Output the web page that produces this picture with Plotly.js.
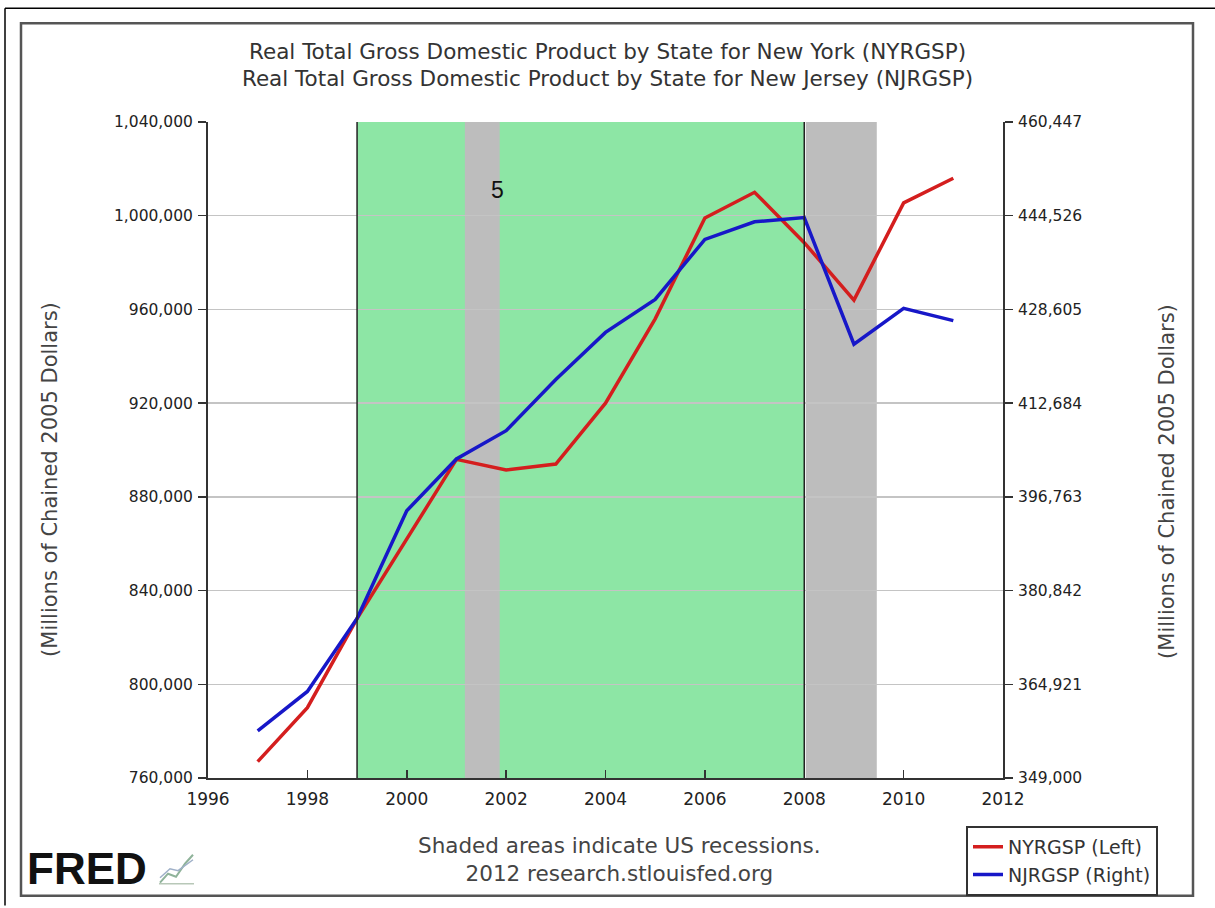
<!DOCTYPE html>
<html>
<head>
<meta charset="utf-8">
<script src="https://cdn.plot.ly/plotly-3.0.1.min.js"></script>
<style>
html,body{margin:0;padding:0;background:#fff;}
#chart{width:1215px;height:908px;}
</style>
</head>
<body>
<div id="chart"></div>
<script>
// ---- data ----
const years = [1997,1998,1999,2000,2001,2002,2003,2004,2005,2006,2007,2008,2009,2010,2011];
const nyValues = [767000,790000,828000,862000,896000,891500,894000,920000,956000,999000,1010000,988500,964000,1005500,1016000];
const njValues = [357000,363700,376100,394400,403200,408000,416700,424700,430300,440500,443500,444200,422700,428800,426700];
const seriesNames = ["NYRGSP (Left)","NJRGSP (Right)"];
const xTicks = [1996,1998,2000,2002,2004,2006,2008,2010,2012];
const leftTicks = [760000,800000,840000,880000,920000,960000,1000000,1040000];
const rightTicks = [349000,364921,380842,396763,412684,428605,444526,460447];
const recessionStart = [2001.17, 2008.03];
const recessionEnd = [2001.87, 2009.46];
const highlightStart = 1999;
const highlightEnd = 2008;
const titleLines = ["Real Total Gross Domestic Product by State for New York (NYRGSP)",
                    "Real Total Gross Domestic Product by State for New Jersey (NJRGSP)"];
const axisTitle = "(Millions of Chained 2005 Dollars)";
const noteLines = ["Shaded areas indicate US recessions.","2012 research.stlouisfed.org"];

// ---- layout helpers (pixel -> paper) ----
const L = 208, R = 1003, T = 122, B = 780;
const px = x => (x - L) / (R - L);
const py = y => (B - y) / (B - T);

const FONT = "DejaVu Sans, Verdana, sans-serif";
const red = "#d41e1e", blue = "#1717c8";

const traces = [
  {x: years, y: nyValues, name: seriesNames[0], type: "scatter", mode: "lines",
   line: {color: red, width: 3.5}, yaxis: "y"},
  {x: years, y: njValues, name: seriesNames[1], type: "scatter", mode: "lines",
   line: {color: blue, width: 3.5}, yaxis: "y2"}
];

const shapes = [];
shapes.push({type:"rect", xref:"x", yref:"paper", x0: highlightStart, x1: highlightEnd, y0:0, y1:1,
  fillcolor:"#8de6a5", line:{width:0}, layer:"below"});
for (let i = 0; i < recessionStart.length; i++) {
  shapes.push({type:"rect", xref:"x", yref:"paper", x0: recessionStart[i], x1: recessionEnd[i], y0:0, y1:1,
    fillcolor:"#bdbdbd", line:{width:0}, layer:"below"});
}
[highlightStart, highlightEnd].forEach(v => shapes.push({type:"line", xref:"x", yref:"paper",
  x0:v, x1:v, y0:0, y1:1, line:{color:"#222", width:1.5}, layer:"above"}));
// outer frame
shapes.push({type:"rect", xref:"paper", yref:"paper", x0:px(21), x1:px(1193), y0:py(898), y1:py(23),
  line:{color:"#555", width:2.5}, fillcolor:"rgba(0,0,0,0)", layer:"below"});
shapes.push({type:"line", xref:"paper", yref:"paper", x0:px(5), x1:px(1215), y0:py(8), y1:py(8),
  line:{color:"#000", width:1.5}});
shapes.push({type:"line", xref:"paper", yref:"paper", x0:px(5), x1:px(5), y0:py(8), y1:py(908),
  line:{color:"#000", width:1.5}});
// FRED icon
shapes.push({type:"path", xref:"paper", yref:"paper",
  path:`M ${px(160)} ${py(885)} L ${px(168)} ${py(876)} L ${px(176)} ${py(879)} L ${px(185)} ${py(866)} L ${px(193)} ${py(857)}`,
  line:{color:"#8fb39a", width:2}});
shapes.push({type:"path", xref:"paper", yref:"paper",
  path:`M ${px(160)} ${py(880)} L ${px(170)} ${py(871)} L ${px(178)} ${py(873)} L ${px(193)} ${py(862)}`,
  line:{color:"#9fb0c8", width:1.5}});
shapes.push({type:"line", xref:"paper", yref:"paper", x0:px(159), x1:px(194), y0:py(886), y1:py(886),
  line:{color:"#b8c8b8", width:1.5}});

const annotations = [
  {text: axisTitle, xref:"paper", yref:"paper", x: px(50), y: py(481), textangle:-90,
   showarrow:false, font:{family:FONT, size:21, color:"#444"}, xanchor:"center", yanchor:"middle"},
  {text: axisTitle, xref:"paper", yref:"paper", x: px(1167), y: py(483), textangle:-90,
   showarrow:false, font:{family:FONT, size:21, color:"#444"}, xanchor:"center", yanchor:"middle"},
  {text: noteLines.join("<br>"), xref:"paper", yref:"paper", x: px(619), y: py(862),
   showarrow:false, font:{family:FONT, size:21.5, color:"#444"}, xanchor:"center", yanchor:"middle", align:"center"},
  {text: "<b>FRED</b>", xref:"paper", yref:"paper", x: px(25), y: py(871),
   showarrow:false, font:{family:"Liberation Sans, Arial, sans-serif", size:44, color:"#111"}, xanchor:"left", yanchor:"middle"},
  {text: "5", xref:"paper", yref:"paper", x: px(497), y: py(190),
   showarrow:false, font:{family:"Liberation Sans, Arial, sans-serif", size:23, color:"#111"}, xanchor:"center", yanchor:"middle"}
];

const tickFont = {family: FONT, size: 15.5, color: "#222"};

const layout = {
  width: 1215, height: 908,
  margin: {l: L, r: 1215 - R, t: T, b: 908 - B, pad: 0},
  paper_bgcolor: "#fff", plot_bgcolor: "#fff",
  title: {text: titleLines.join("<br>"), x: 0.5, xref: "container", xanchor: "center",
          y: 1 - 58.5/908, yref: "container", yanchor: "middle",
          font: {family: FONT, size: 21.5, color: "#333"}},
  showlegend: true,
  legend: {x: px(966), y: py(828), xanchor: "left", yanchor: "top",
           bgcolor: "#fff", bordercolor: "#333", borderwidth: 2,
           font: {family: FONT, size: 19, color: "#333"}, itemwidth: 30, tracegroupgap: 0},
  xaxis: {range: [1996, 2012], tickvals: xTicks, ticktext: xTicks.map(String),
          ticks: "inside", ticklen: 8, tickwidth: 1.5, tickcolor: "#333",
          showline: true, linecolor: "#333", linewidth: 2, showgrid: false, zeroline: false,
          tickfont: {family: FONT, size: 17, color: "#222"}, ticklabelstandoff: 5, fixedrange: true},
  yaxis: {range: [760000, 1040000], tickvals: leftTicks, tickformat: ",",
          ticks: "outside", ticklen: 8, tickwidth: 1.5, tickcolor: "#333",
          showline: true, linecolor: "#333", linewidth: 2,
          showgrid: true, gridcolor: "#c4c4c4", gridwidth: 1.5, zeroline: false,
          tickfont: tickFont, ticklabelstandoff: 2},
  yaxis2: {range: [349000, 460447], tickvals: rightTicks, tickformat: ",",
           overlaying: "y", side: "right",
           ticks: "outside", ticklen: 8, tickwidth: 1.5, tickcolor: "#333",
           showline: true, linecolor: "#333", linewidth: 2,
           showgrid: false, zeroline: false, tickfont: tickFont, ticklabelstandoff: 2},
  shapes: shapes,
  annotations: annotations
};

Plotly.newPlot("chart", traces, layout, {displayModeBar: false, staticPlot: true});
</script>
</body>
</html>
